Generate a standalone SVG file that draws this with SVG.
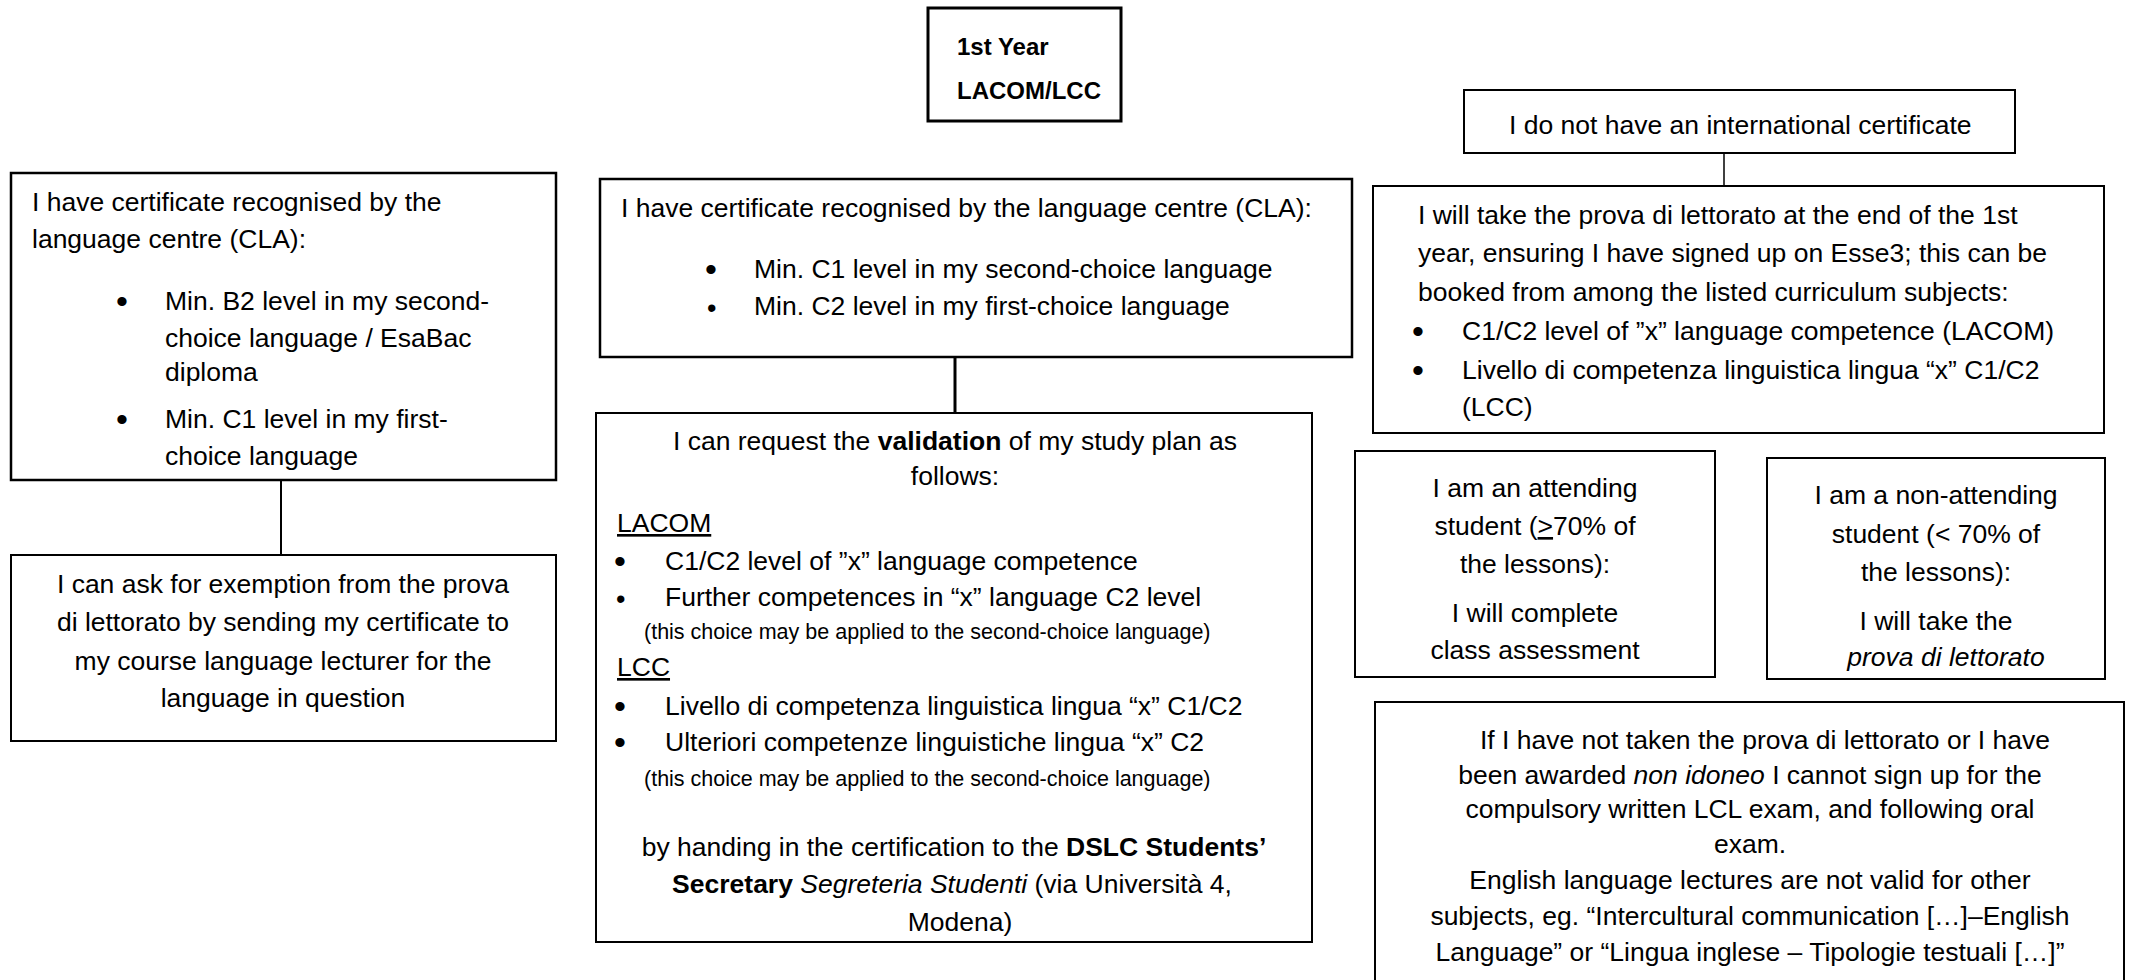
<svg xmlns="http://www.w3.org/2000/svg" width="2132" height="980" viewBox="0 0 2132 980">
<style>
.box{fill:#fff;stroke:#000;stroke-width:2}
.mid{stroke-width:2.5}
.thick{stroke-width:3}
.t{font-family:"Liberation Sans",Arial,sans-serif;font-size:26.5px;fill:#000}
.c{text-anchor:middle}
.s{font-size:21.5px}
.bl{font-family:"Liberation Sans",Arial,sans-serif;font-size:34px;fill:#000}
.bls{font-family:"Liberation Sans",Arial,sans-serif;font-size:27px;fill:#000}
.b{font-weight:bold}
.i{font-style:italic}
.u{text-decoration:underline}
.title{font-family:"Liberation Sans",Arial,sans-serif;font-size:24px;font-weight:bold;fill:#000}
.conn{stroke:#000;fill:none}
</style>
<rect x="0" y="0" width="2132" height="980" fill="#fff"/>
<g id="connectors">
<line class="conn" x1="281" y1="480" x2="281" y2="555" stroke-width="2"/>
<line class="conn" x1="955" y1="357" x2="955" y2="413" stroke-width="3"/>
<line class="conn" x1="1724" y1="153" x2="1724" y2="186" stroke-width="1.5"/>
</g>
<g id="node-title">
<rect class="box thick" x="928" y="8" width="193" height="113"/>
<text class="title" x="957" y="55">1st Year</text>
<text class="title" x="957" y="99">LACOM/LCC</text>
</g>
<g id="node-left-cert">
<rect class="box mid" x="11" y="173" width="545" height="307"/>
<text class="t" x="32" y="211">I have certificate recognised by the</text>
<text class="t" x="32" y="248">language centre (CLA):</text>
<text class="bl" x="116" y="313">•</text>
<text class="t" x="165" y="310">Min. B2 level in my second-</text>
<text class="t" x="165" y="347">choice language / EsaBac</text>
<text class="t" x="165" y="381">diploma</text>
<text class="bl" x="116" y="431">•</text>
<text class="t" x="165" y="428">Min. C1 level in my first-</text>
<text class="t" x="165" y="465">choice language</text>
</g>
<g id="node-left-exemption">
<rect class="box" x="11" y="555" width="545" height="186"/>
<text class="t c" x="283" y="593">I can ask for exemption from the prova</text>
<text class="t c" x="283" y="631">di lettorato by sending my certificate to</text>
<text class="t c" x="283" y="670">my course language lecturer for the</text>
<text class="t c" x="283" y="707">language in question</text>
</g>
<g id="node-center-cert">
<rect class="box mid" x="600" y="179" width="752" height="178"/>
<text class="t" x="621" y="217">I have certificate recognised by the language centre (CLA):</text>
<text class="bl" x="705" y="281">•</text>
<text class="t" x="754" y="278">Min. C1 level in my second-choice language</text>
<text class="bls" x="707" y="317">•</text>
<text class="t" x="754" y="315">Min. C2 level in my first-choice language</text>
</g>
<g id="node-center-validation">
<rect class="box" x="596" y="413" width="716" height="529"/>
<text class="t c" x="955" y="450">I can request the <tspan class="b">validation</tspan> of my study plan as</text>
<text class="t c" x="955" y="485">follows:</text>
<text class="t u" x="617" y="532">LACOM</text>
<text class="bl" x="614" y="573">•</text>
<text class="t" x="665" y="570">C1/C2 level of ”x” language competence</text>
<text class="bls" x="616" y="608">•</text>
<text class="t" x="665" y="606">Further competences in “x” language C2 level</text>
<text class="t s" x="644" y="639">(this choice may be applied to the second-choice language)</text>
<text class="t u" x="617" y="676">LCC</text>
<text class="bl" x="614" y="718">•</text>
<text class="t" x="665" y="715">Livello di competenza linguistica lingua “x” C1/C2</text>
<text class="bl" x="614" y="754">•</text>
<text class="t" x="665" y="751">Ulteriori competenze linguistiche lingua “x” C2</text>
<text class="t s" x="644" y="786">(this choice may be applied to the second-choice language)</text>
<text class="t c" x="954" y="856">by handing in the certification to the <tspan class="b">DSLC Students’</tspan></text>
<text class="t c" x="952" y="893"><tspan class="b">Secretary</tspan> <tspan class="i">Segreteria Studenti</tspan> (via Università 4,</text>
<text class="t c" x="960" y="931">Modena)</text>
</g>
<g id="node-no-cert">
<rect class="box" x="1464" y="90" width="551" height="63"/>
<text class="t" x="1509" y="134">I do not have an international certificate</text>
</g>
<g id="node-prova">
<rect class="box" x="1373" y="186" width="731" height="247"/>
<text class="t" x="1418" y="224">I will take the prova di lettorato at the end of the 1st</text>
<text class="t" x="1418" y="262">year, ensuring I have signed up on Esse3; this can be</text>
<text class="t" x="1418" y="301">booked from among the listed curriculum subjects:</text>
<text class="bl" x="1412" y="343">•</text>
<text class="t" x="1462" y="340">C1/C2 level of ”x” language competence (LACOM)</text>
<text class="bl" x="1412" y="382">•</text>
<text class="t" x="1462" y="379">Livello di competenza linguistica lingua “x” C1/C2</text>
<text class="t" x="1462" y="416">(LCC)</text>
</g>
<g id="node-attending">
<rect class="box" x="1355" y="451" width="360" height="226"/>
<text class="t c" x="1535" y="497">I am an attending</text>
<text class="t c" x="1535" y="535">student (<tspan class="u">&gt;</tspan>70% of</text>
<text class="t c" x="1535" y="573">the lessons):</text>
<text class="t c" x="1535" y="622">I will complete</text>
<text class="t c" x="1535" y="659">class assessment</text>
</g>
<g id="node-non-attending">
<rect class="box" x="1767" y="458" width="338" height="221"/>
<text class="t c" x="1936" y="504">I am a non-attending</text>
<text class="t c" x="1936" y="543">student (&lt; 70% of</text>
<text class="t c" x="1936" y="581">the lessons):</text>
<text class="t c" x="1936" y="630">I will take the</text>
<text class="t c i" x="1946" y="666">prova di lettorato</text>
</g>
<g id="node-warning">
<rect class="box" x="1375" y="702" width="749" height="300"/>
<text class="t c" x="1765" y="749">If I have not taken the prova di lettorato or I have</text>
<text class="t c" x="1750" y="784">been awarded <tspan class="i">non idoneo</tspan> I cannot sign up for the</text>
<text class="t c" x="1750" y="818">compulsory written LCL exam, and following oral</text>
<text class="t c" x="1750" y="853">exam.</text>
<text class="t c" x="1750" y="889">English language lectures are not valid for other</text>
<text class="t c" x="1750" y="925">subjects, eg. “Intercultural communication […]–English</text>
<text class="t c" x="1750" y="961">Language” or “Lingua inglese – Tipologie testuali […]”</text>
</g>
</svg>
